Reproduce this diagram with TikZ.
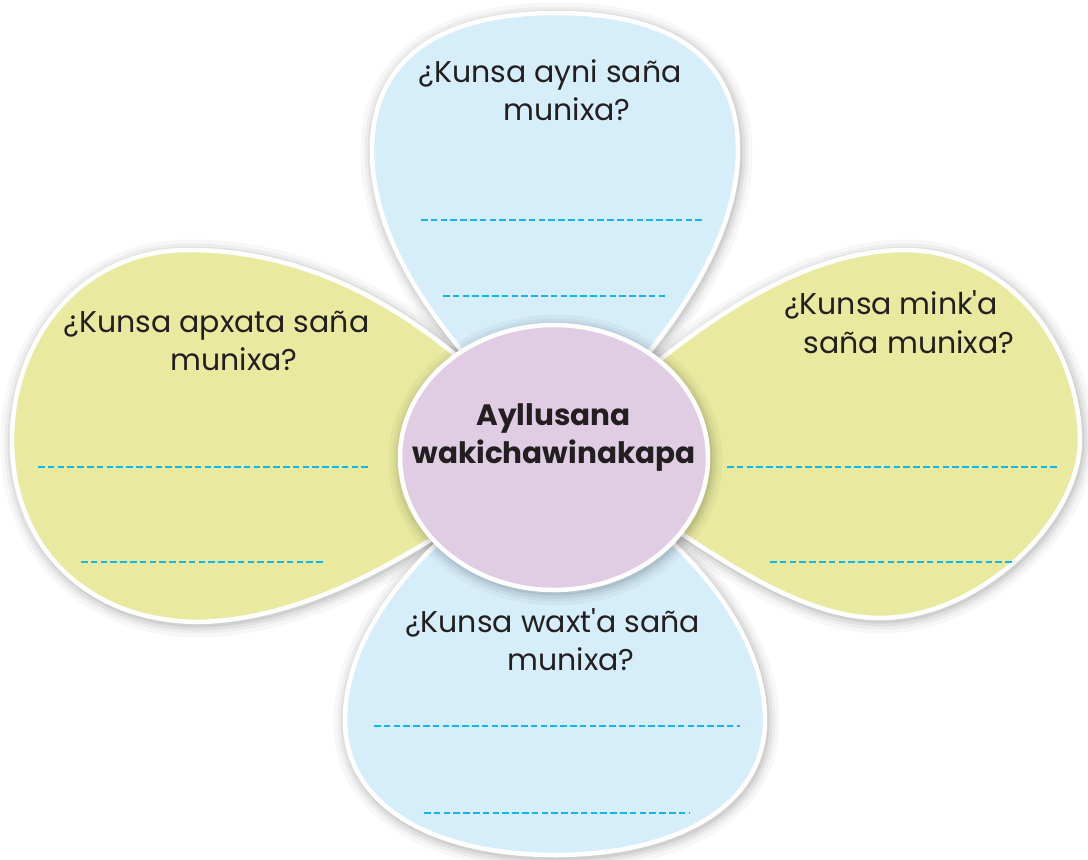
\documentclass[tikz,border=0pt]{standalone}
\usepackage{fontspec}
\setmainfont{Poppins}[Ligatures=TeXOff]
\usetikzlibrary{shapes.geometric}
\definecolor{petalblue}{HTML}{D6EDFA}
\definecolor{petalgreen}{HTML}{E9EAA0}
\definecolor{hubfill}{HTML}{E0CDE4}
\definecolor{dashcyan}{HTML}{10B6EC}
\definecolor{inktext}{HTML}{231F20}
\newcommand\softshadow[1]{%
  \foreach \w/\o in {26/0.03,18/0.04,12/0.05,6/0.07}{%
    \draw[line width=\w pt, black, opacity=\o, line join=round, shift={(1.5,2.5)}] #1;}%
}
\tikzset{
  petalA/.style={fill=petalblue, draw=white, line width=4.5pt},
  petalB/.style={fill=petalgreen, draw=white, line width=4.5pt},
  dashline/.style={draw=dashcyan, line width=2.2pt, dash pattern=on 6.5pt off 3.3pt},
  qtext/.style={anchor=base, inner sep=0pt, text=inktext, font=\fontsize{30}{34}\selectfont},
  hubtext/.style={anchor=base, inner sep=0pt, text=inktext, font=\fontsize{29.5}{34}\selectfont\bfseries}
}
\begin{document}
\begin{tikzpicture}[x=1pt,y=-1pt]
\useasboundingbox[fill=white] (0,0) rectangle (1088,860);
\def\ptop{(555,455) .. controls (500,390) and (372,280) .. (372,150) .. controls (372,55) and (445,13) .. (556,13) .. controls (667,13) and (738,55) .. (738,150) .. controls (738,270) and (620,390) .. (555,455) -- cycle}
\def\pleft{(555,455) .. controls (450,330) and (330,250) .. (188,250) .. controls (80,250) and (12,340) .. (12,440) .. controls (12,550) and (90,622) .. (200,622) .. controls (330,618) and (450,530) .. (555,455) -- cycle}
\def\pright{(555,455) .. controls (650,360) and (780,250) .. (905,250) .. controls (1000,250) and (1078,335) .. (1080,440) .. controls (1080,520) and (980,618) .. (880,618) .. controls (770,618) and (650,500) .. (555,455) -- cycle}
\def\pbottom{(555,455) .. controls (460,510) and (345,610) .. (345,720) .. controls (345,810) and (440,855) .. (555,855) .. controls (670,855) and (765,810) .. (765,720) .. controls (765,610) and (650,510) .. (555,455) -- cycle}
% shadows
\softshadow{\ptop}
\softshadow{\pleft}
\softshadow{\pright}
\softshadow{\pbottom}
% petals
\path[petalA] \ptop;
\path[petalA] \pbottom;
\path[petalB] \pleft;
\path[petalB] \pright;
% hub shadow
\foreach \w/\o in {26/0.03,18/0.04,12/0.05,6/0.07}{%
  \draw[line width=\w pt, black, opacity=\o] (555.5,460) ellipse [x radius=154, y radius=132.5];}
\node (hub) [ellipse, fill=hubfill, draw=white, line width=4.5pt, minimum width=308pt, minimum height=265pt, inner sep=0pt] at (554,457.5) {};
% answer lines
\coordinate (t1a) at (421,220); \coordinate (t1b) at (703,220);
\coordinate (t2a) at (443,296); \coordinate (t2b) at (667,296);
\coordinate (l1a) at (38,467);  \coordinate (l1b) at (368,467);
\coordinate (l2a) at (81,562);  \coordinate (l2b) at (325,562);
\coordinate (r1a) at (727,467); \coordinate (r1b) at (1057,467);
\coordinate (r2a) at (770,562); \coordinate (r2b) at (1013,562);
\coordinate (b1a) at (374,726); \coordinate (b1b) at (740,726);
\coordinate (b2a) at (424,813); \coordinate (b2b) at (690,813);
\draw[dashline] (t1a) -- (t1b);
\draw[dashline] (t2a) -- (t2b);
\draw[dashline] (l1a) -- (l1b);
\draw[dashline] (l2a) -- (l2b);
\draw[dashline] (r1a) -- (r1b);
\draw[dashline] (r2a) -- (r2b);
\draw[dashline] (b1a) -- (b1b);
\draw[dashline] (b2a) -- (b2b);
% texts
\node[qtext] (top1) at (550,82) {¿Kunsa ayni saña};
\node[qtext] (top2) at (567,120) {munixa?};
\node[qtext] (left1) at (216.5,332) {¿Kunsa apxata saña};
\node[qtext] (left2) at (234,370) {munixa?};
\node[qtext] (right1) at (891,314) {¿Kunsa mink'a};
\node[qtext] (right2) at (909,353) {saña munixa?};
\node[qtext] (bot1) at (552.5,632) {¿Kunsa waxt'a saña};
\node[qtext] (bot2) at (571,670) {munixa?};
\node[hubtext] (hub1) at (553.5,425) {Ayllusana};
\node[hubtext] (hub2) at (554,463) {wakichawinakapa};
\end{tikzpicture}
\end{document}
